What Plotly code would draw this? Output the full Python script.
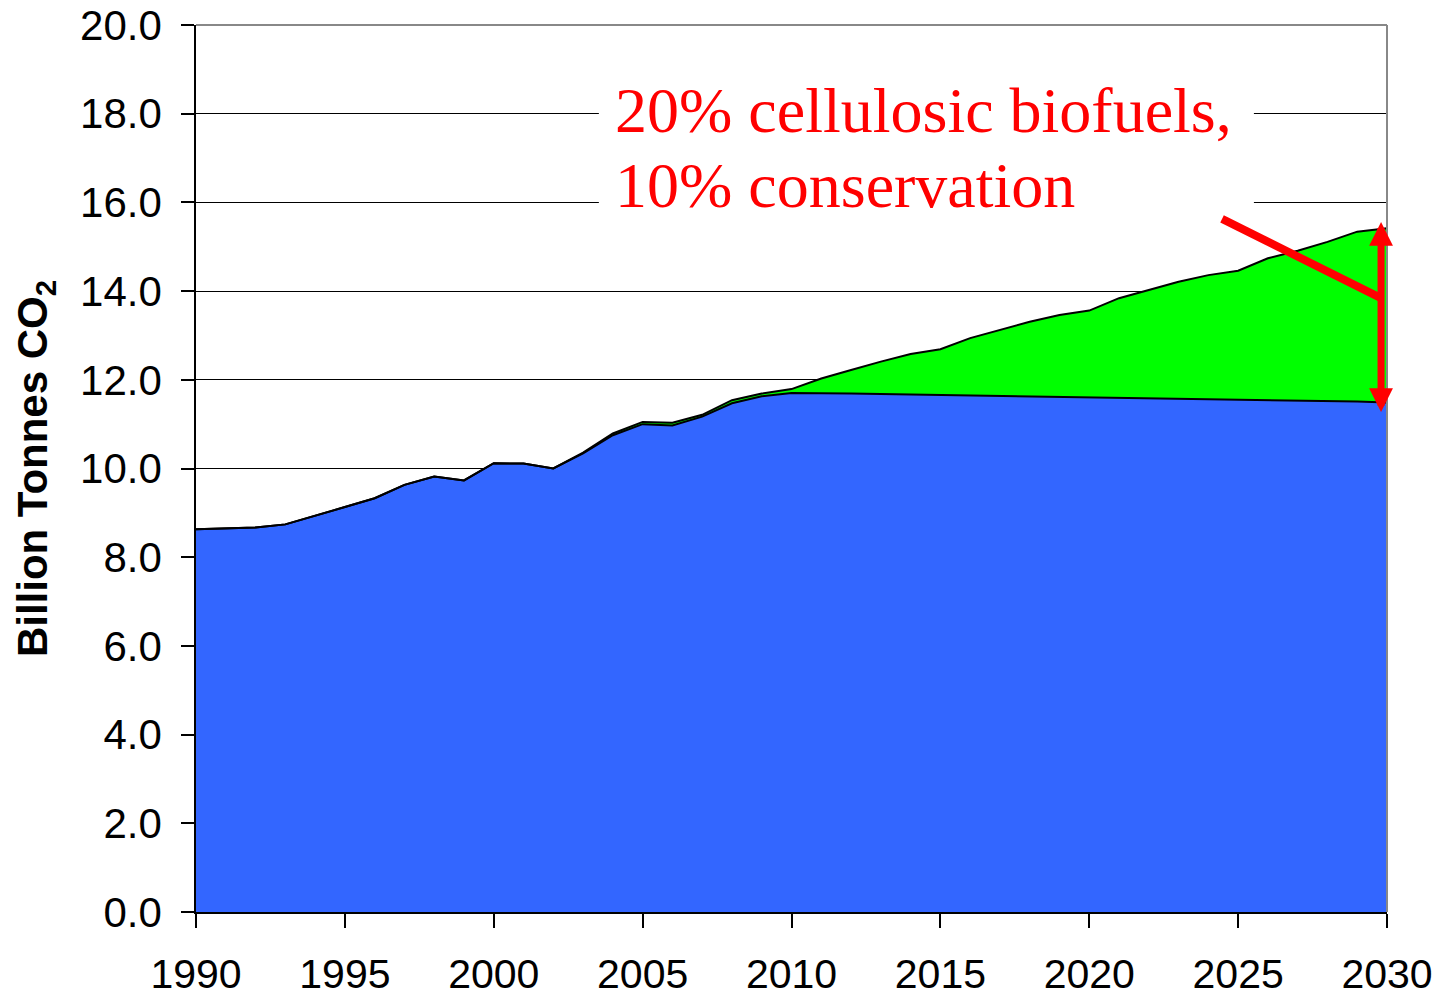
import plotly.graph_objects as go

years = list(range(1990, 2031))

# Billion tonnes CO2 — remaining emissions (blue area)
base_emissions = [8.63, 8.65, 8.67, 8.74, 8.93, 9.13, 9.33, 9.63, 9.82, 9.73,
                  10.12, 10.11, 10.00, 10.34, 10.75, 11.00, 10.97, 11.17, 11.47, 11.63,
                  11.70, 11.70, 11.69, 11.68, 11.67, 11.65, 11.65, 11.64, 11.63, 11.62,
                  11.60, 11.60, 11.59, 11.58, 11.57, 11.55, 11.55, 11.53, 11.52, 11.51, 11.49]

# Business-as-usual total (top of green area)
bau_total = [8.63, 8.65, 8.67, 8.74, 8.93, 9.13, 9.33, 9.63, 9.82, 9.73,
             10.12, 10.11, 10.00, 10.36, 10.79, 11.05, 11.03, 11.21, 11.54, 11.69,
             11.79, 12.03, 12.22, 12.41, 12.58, 12.69, 12.94, 13.12, 13.31, 13.46,
             13.56, 13.84, 14.02, 14.21, 14.36, 14.46, 14.74, 14.91, 15.11, 15.34, 15.42]

y_ticks = [0, 2, 4, 6, 8, 10, 12, 14, 16, 18, 20]
x_ticks = [1990, 1995, 2000, 2005, 2010, 2015, 2020, 2025, 2030]

label_line1 = "20% cellulosic biofuels,"
label_line2 = "10% conservation"

SANS = "Liberation Sans, Arial, sans-serif"
SERIF = "Liberation Serif, Times New Roman, serif"

fig = go.Figure()
fig.add_trace(go.Scatter(
    x=years, y=base_emissions, mode="lines",
    line=dict(color="black", width=2), fill="tozeroy", fillcolor="#3366FF",
    showlegend=False, hoverinfo="skip"))
fig.add_trace(go.Scatter(
    x=years, y=bau_total, mode="lines",
    line=dict(color="black", width=2), fill="tonexty", fillcolor="#00FF00",
    showlegend=False, hoverinfo="skip"))

# white label background hiding the gridlines
fig.add_shape(type="rect", xref="x", yref="y", x0=2003.53, x1=2025.53, y0=15.72, y1=18.8,
              fillcolor="white", line=dict(width=0), layer="between")

fig.add_annotation(x=2004.0, y=18.08, xref="x", yref="y", text=label_line1, showarrow=False,
                   xanchor="left", yanchor="middle",
                   font=dict(family=SERIF, size=64, color="#FF0000"))
fig.add_annotation(x=2004.0, y=16.37, xref="x", yref="y", text=label_line2, showarrow=False,
                   xanchor="left", yanchor="middle",
                   font=dict(family=SERIF, size=64, color="#FF0000"))

# slanted pointer line
fig.add_shape(type="line", xref="x", yref="y", x0=2024.46, y0=15.63, x1=2029.8, y1=13.84,
              line=dict(color="#FF0000", width=8), layer="above")
# double-headed vertical arrow
fig.add_annotation(x=2029.8, y=15.56, ax=2029.8, ay=11.24, xref="x", yref="y",
                   axref="x", ayref="y", text="", showarrow=True,
                   arrowhead=2, startarrowhead=2, arrowside="end+start",
                   arrowwidth=7, arrowsize=0.68, startarrowsize=0.68,
                   arrowcolor="#FF0000")

# gray top/right border
fig.add_shape(type="line", xref="paper", yref="paper", x0=0, x1=1, y0=1, y1=1,
              line=dict(color="#888888", width=2), layer="above")
fig.add_shape(type="line", xref="paper", yref="paper", x0=1, x1=1, y0=0, y1=1,
              line=dict(color="#888888", width=2), layer="above")

fig.update_layout(
    width=1437, height=994,
    margin=dict(l=196, r=50, t=25, b=82),
    paper_bgcolor="white", plot_bgcolor="white",
    font=dict(family=SANS, color="black"),
    xaxis=dict(range=[1990, 2030], tickmode="array", tickvals=x_ticks,
               ticks="outside", ticklen=14, tickcolor="black", tickwidth=1.5,
               showline=True, linecolor="black", linewidth=1.5,
               showgrid=False, zeroline=False, automargin=False,
               tickfont=dict(family=SANS, size=41, color="black"),
               ticklabelstandoff=11),
    yaxis=dict(range=[0, 20], tickmode="array", tickvals=y_ticks, tickformat=".1f",
               ticks="outside", ticklen=13, tickcolor="black", tickwidth=1.5,
               showline=True, linecolor="black", linewidth=1.5,
               showgrid=True, gridcolor="black", gridwidth=1, zeroline=False,
               automargin=False,
               tickfont=dict(family=SANS, size=42, color="black"),
               ticklabelstandoff=11,
               title=dict(text="<b>Billion Tonnes CO<sub>2</sub></b>", standoff=19,
                          font=dict(family=SANS, size=42, color="black"))),
)

fig.write_html("out.html", config={"displayModeBar": False},
               post_script="document.body.style.margin='0px';")
